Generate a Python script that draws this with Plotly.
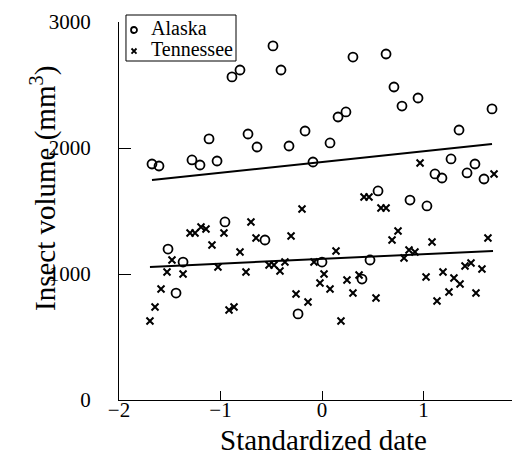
import plotly.graph_objects as go

alaska_x = [-1.675, -1.606, -1.517, -1.438, -1.369, -1.281, -1.202, -1.113, -1.034, -0.956,
            -0.887, -0.808, -0.729, -0.640, -0.562, -0.483, -0.404, -0.325, -0.236, -0.167,
            -0.089, 0.0, 0.079, 0.158, 0.236, 0.305, 0.394, 0.473, 0.552, 0.631,
            0.709, 0.788, 0.867, 0.946, 1.034, 1.113, 1.182, 1.271, 1.350, 1.429,
            1.507, 1.596, 1.675]
alaska_y = [1873, 1857, 1198, 849, 1095, 1905, 1865, 2072, 1897, 1413,
            2564, 2619, 2111, 2008, 1270, 2810, 2619, 2016, 683, 2135,
            1889, 1095, 2040, 2246, 2286, 2722, 960, 1111, 1659, 2746,
            2484, 2333, 1587, 2397, 1540, 1794, 1762, 1913, 2143, 1802,
            1873, 1754, 2310]

tenn_x = [-1.695, -1.645, -1.586, -1.527, -1.478, -1.369, -1.300, -1.251, -1.192, -1.143,
          -1.084, -1.025, -0.966, -0.916, -0.867, -0.808, -0.749, -0.700, -0.650, -0.522,
          -0.473, -0.414, -0.365, -0.305, -0.256, -0.197, -0.138, -0.079, -0.020, 0.020,
          0.079, 0.138, 0.187, 0.246, 0.305, 0.365, 0.414, 0.463, 0.532, 0.581,
          0.631, 0.690, 0.749, 0.808, 0.857, 0.916, 0.966, 1.025, 1.084, 1.133,
          1.192, 1.251, 1.300, 1.360, 1.409, 1.468, 1.517, 1.576, 1.635, 1.695]
tenn_y = [627, 738, 881, 1016, 1111, 1000, 1325, 1325, 1373, 1357,
          1230, 1056, 1325, 714, 738, 1175, 1016, 1413, 1286, 1071,
          1071, 1024, 1095, 1302, 841, 1516, 778, 1095, 929, 1000,
          881, 1183, 627, 952, 849, 992, 1611, 1611, 810, 1524,
          1524, 1270, 1341, 1127, 1191, 1175, 1881, 976, 1254, 786,
          1016, 857, 968, 921, 1064, 1087, 849, 1040, 1286, 1794]

alaska_fit_x = [-1.675, 1.675]
alaska_fit_y = [1746, 2032]
tenn_fit_x = [-1.695, 1.685]
tenn_fit_y = [1056, 1183]

x_ticks = [-2, -1, 0, 1, 2]
y_ticks = [0, 1000, 2000, 3000]
legend_names = ["Alaska", "Tennessee"]

FONT = "Liberation Serif"

fig = go.Figure()
fig.add_trace(go.Scatter(
    x=alaska_x, y=alaska_y, mode="markers", name=legend_names[0], showlegend=False,
    marker=dict(symbol="circle-open", size=9, color="black", line=dict(width=1.8, color="black")),
))
fig.add_trace(go.Scatter(
    x=tenn_x, y=tenn_y, mode="markers", name=legend_names[1], showlegend=False,
    marker=dict(symbol="x-thin-open", size=7, color="black", line=dict(width=2, color="black")),
))
fig.add_trace(go.Scatter(
    x=alaska_fit_x, y=alaska_fit_y, mode="lines", showlegend=False,
    line=dict(color="black", width=2),
))
fig.add_trace(go.Scatter(
    x=tenn_fit_x, y=tenn_fit_y, mode="lines", showlegend=False,
    line=dict(color="black", width=2),
))

# Compact legend box (drawn as layout decoration)
fig.add_shape(type="rect", xref="paper", yref="paper", x0=0.0172, x1=0.2882, y0=0.8968, y1=1.0185,
              line=dict(color="black", width=1), fillcolor="white", layer="above")
fig.add_shape(type="circle", xref="paper", yref="paper", x0=0.0296, x1=0.0443, y0=0.9709, y1=0.9868,
              line=dict(color="black", width=1.8), layer="above")
fig.add_shape(type="path", xref="paper", yref="paper",
              path="M 0.0308,0.9166 L 0.0431,0.9299 M 0.0308,0.9299 L 0.0431,0.9166",
              line=dict(color="black", width=1.8), layer="above")
fig.add_annotation(text=legend_names[0], xref="paper", yref="paper", x=0.0739, y=0.984,
                   xanchor="left", yanchor="middle", showarrow=False,
                   font=dict(family=FONT, size=20, color="black"))
fig.add_annotation(text=legend_names[1], xref="paper", yref="paper", x=0.0739, y=0.9286,
                   xanchor="left", yanchor="middle", showarrow=False,
                   font=dict(family=FONT, size=20, color="black"))

# Axis titles
fig.add_annotation(text="Standardized date", xref="paper", yref="paper", x=0.5025, y=-0.1058,
                   xanchor="center", yanchor="middle", showarrow=False,
                   font=dict(family=FONT, size=29, color="black"))
fig.add_annotation(text="Insect volume (mm<sup>3</sup>)", xref="paper", yref="paper", x=-0.1872, y=0.5608,
                   xanchor="center", yanchor="middle", showarrow=False, textangle=-90,
                   font=dict(family=FONT, size=29, color="black"))

fig.update_layout(
    width=520, height=455,
    margin=dict(l=111, r=3, t=14, b=63),
    paper_bgcolor="white", plot_bgcolor="white",
    font=dict(family=FONT, color="black", size=20),
    showlegend=False,
    xaxis=dict(
        range=[-2, 2], tickvals=x_ticks, ticks="inside", ticklen=9, tickwidth=1,
        tickcolor="black", showline=True, linecolor="black", linewidth=1,
        showgrid=False, zeroline=False,
        tickfont=dict(family=FONT, size=21), ticklabelstandoff=-9,
    ),
    yaxis=dict(
        range=[0, 3000], tickvals=y_ticks, ticks="inside", ticklen=12, tickwidth=1,
        tickcolor="black", showline=True, linecolor="black", linewidth=1,
        showgrid=False, zeroline=False,
        tickfont=dict(family=FONT, size=21), ticklabelstandoff=23,
    ),
)

fig.write_html("out.html")
